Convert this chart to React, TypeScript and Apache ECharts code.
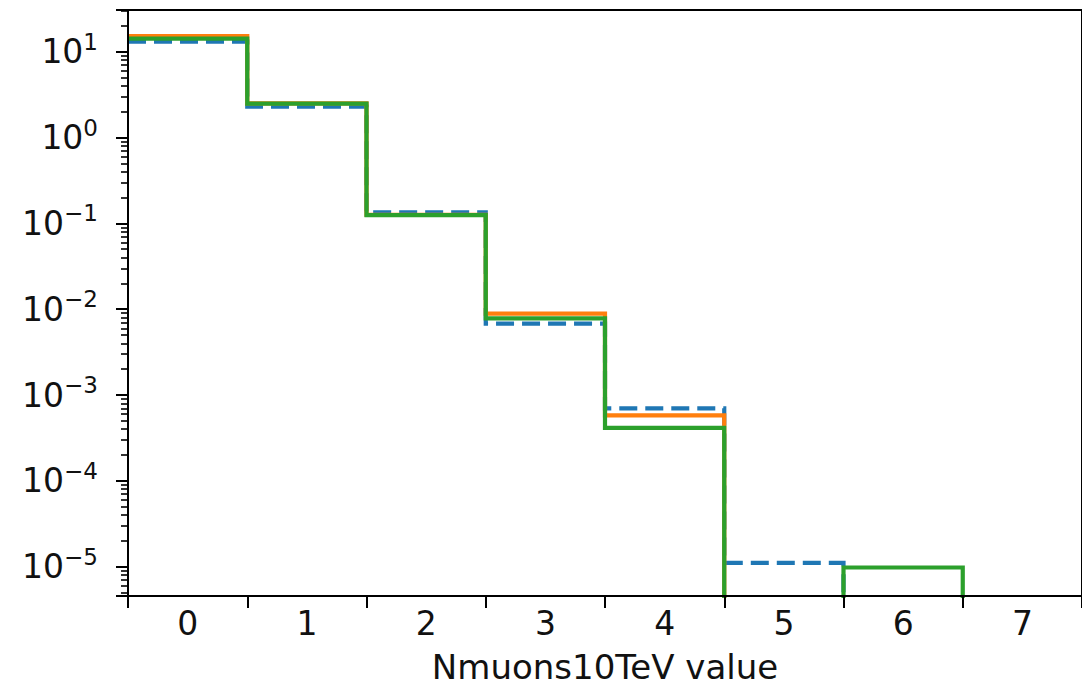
import React, { useEffect, useRef } from "react";
import * as echarts from "echarts";

// Bin labels (x axis categories) and bin centres
const categories = ["0", "1", "2", "3", "4", "5", "6", "7"];
const binCenters = [0, 1, 2, 3, 4, 5, 6, 7];

// Histogram heights (density) per bin
const blueValues = [13.1, 2.29, 0.134, 0.0068, 0.0007, 0.0000111, 0, 0];
const orangeValues = [15.2, 2.5, 0.126, 0.0089, 0.00058, 0, 0, 0];
const greenValues = [14.2, 2.48, 0.125, 0.0078, 0.000415, 0, 0.0000098, 0];

const xAxisName = "Nmuons10TeV value";
const yMin = 4.56e-6;
const yMax = 30.6;
const FLOOR = 1e-9; // stands in for empty bins (below the visible range)

function stepPoints(values: number[]): [number, number][] {
  const pts: [number, number][] = [];
  values.forEach((v, i) => {
    const lo = binCenters[i] - 0.5;
    const hi = binCenters[i] + 0.5;
    const y = v > 0 ? v : FLOOR;
    pts.push([lo, y]);
    pts.push([hi, y]);
  });
  pts.push([binCenters[binCenters.length - 1] + 0.5, FLOOR]);
  return pts;
}

const FONT = "DejaVu Sans";
const FS = 33;

export default function App() {
  const ref = useRef<HTMLDivElement>(null);
  useEffect(() => {
    if (!ref.current) return;
    const chart = echarts.init(ref.current, undefined, { renderer: "svg" });
    const mk = (name: string, vals: number[], color: string, dashed: boolean, z: number) => ({
      name,
      type: "line",
      xAxisIndex: 1,
      yAxisIndex: 0,
      data: stepPoints(vals),
      showSymbol: false,
      symbol: "none",
      clip: true,
      z,
      lineStyle: {
        color,
        width: 4.2,
        type: dashed ? [18, 8] : "solid",
        cap: "butt",
        join: "miter",
      },
    });
    chart.setOption({
      animation: false,
      backgroundColor: "#ffffff",
      grid: {
        left: 128,
        top: 10,
        width: 960,
        height: 586,
        show: true,
        borderColor: "#000",
        borderWidth: 2,
        backgroundColor: "transparent",
      },
      xAxis: [
        {
          type: "category",
          data: categories,
          position: "bottom",
          boundaryGap: true,
          z: 10,
          axisLine: { show: true, onZero: false, lineStyle: { color: "#000", width: 2 } },
          axisTick: { show: true, length: 12, alignWithLabel: false, lineStyle: { color: "#000", width: 2 } },
          axisLabel: { fontSize: FS, color: "#111", margin: 11, fontFamily: FONT },
          splitLine: { show: false },
          name: xAxisName,
          nameLocation: "middle",
          nameGap: 54,
          nameTextStyle: { fontSize: 34, color: "#111", fontFamily: FONT },
        },
        {
          type: "value",
          min: -0.5,
          max: 7.5,
          show: false,
        },
      ],
      yAxis: {
        type: "log",
        logBase: 10,
        min: yMin,
        max: yMax,
        z: 10,
        axisLine: { show: true, onZero: false, lineStyle: { color: "#000", width: 2 } },
        axisTick: { show: true, length: 12, lineStyle: { color: "#000", width: 2 } },
        minorTick: { show: true, splitNumber: 9, length: 7, lineStyle: { color: "#000", width: 1.6 } },
        splitLine: { show: false },
        minorSplitLine: { show: false },
        axisLabel: {
          margin: 30,
          color: "#111",
          fontFamily: FONT,
          formatter: (v: number) => {
            const l = Math.log10(v);
            const e = Math.round(l);
            if (Math.abs(l - e) > 1e-6) return "";
            const es = e < 0 ? "\u2212" + Math.abs(e) : String(e);
            return "{b|10}{s|" + es + "}";
          },
          rich: {
            b: { fontSize: FS, fontFamily: FONT, color: "#111", padding: [0, 0, 0, 0] },
            s: { fontSize: 23, fontFamily: FONT, color: "#111", padding: [0, 0, 20, 0] },
          },
        },
      },
      series: [
        mk("blue", blueValues, "#1f77b4", true, 2),
        mk("orange", orangeValues, "#ff7f0e", false, 3),
        mk("green", greenValues, "#2ca02c", false, 4),
      ],
    });
    return () => chart.dispose();
  }, []);
  return (
    <div
      ref={ref}
      style={{ position: "fixed", left: 0, top: 0, width: 1082, height: 690, background: "#fff" }}
    />
  );
}
